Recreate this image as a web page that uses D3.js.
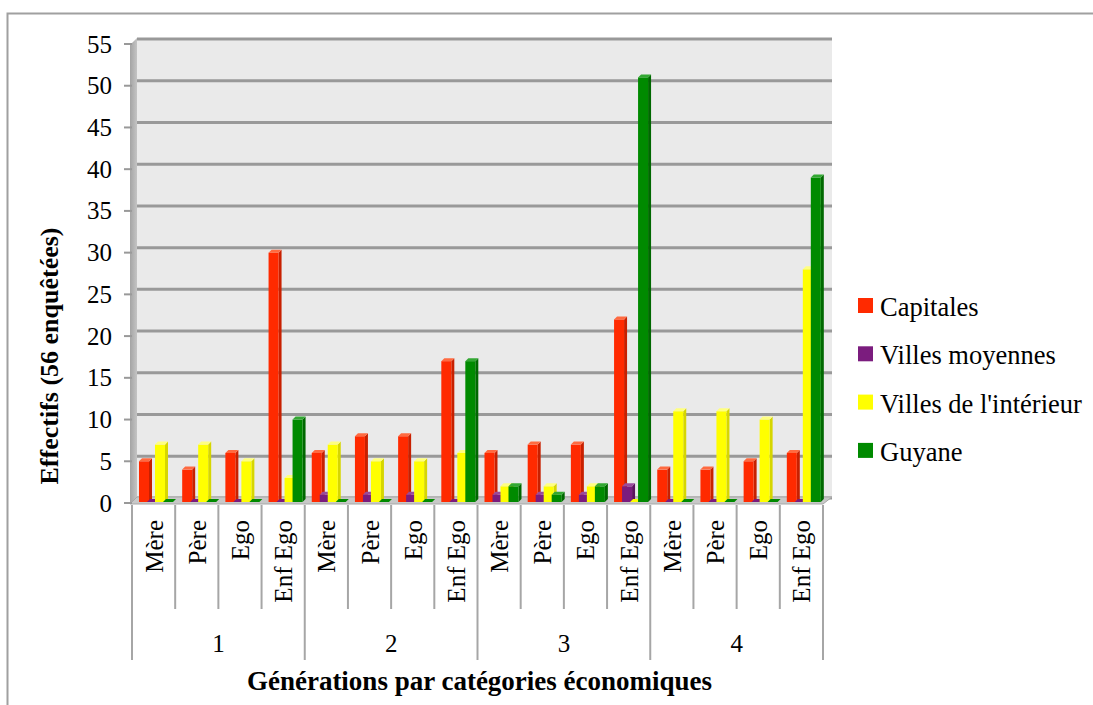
<!DOCTYPE html>
<html><head><meta charset="utf-8">
<script src="https://cdn.jsdelivr.net/npm/d3@7"></script>
<style>
html,body{margin:0;padding:0;background:#fff;}
svg{display:block;}
svg text{font-family:"Liberation Serif","Times New Roman","DejaVu Serif",serif;}
</style>
</head><body>
<script>
// ---- data ----
const groups = ["1", "2", "3", "4"];
const generations = ["Mère", "Père", "Ego", "Enf Ego"];
const seriesNames = ["Capitales", "Villes moyennes", "Villes de l'intérieur", "Guyane"];
const capitales       = [5, 4, 6, 30,  6, 8, 8, 17,  6, 7, 7, 22,  4, 4, 5, 6];
const villesMoyennes  = [0, 0, 0, 0,   1, 1, 1, 0,   1, 1, 1, 2,   0, 0, 0, 0];
const villesInterieur = [7, 7, 5, 3,   7, 5, 5, 6,   2, 2, 2, 0,   11, 11, 10, 28];
const guyane          = [0, 0, 0, 10,  0, 0, 0, 17,  2, 1, 2, 51,  0, 0, 0, 39];
const yTicks = [0, 5, 10, 15, 20, 25, 30, 35, 40, 45, 50, 55];
const yTitle = "Effectifs (56 enquêtées)";
const xTitle = "Générations par catégories économiques";

// ---- setup ----
const W = 1093, H = 705;
const seriesValues = [capitales, villesMoyennes, villesInterieur, guyane];
const colors = [
  {front: "#ff2a00", top: "#ff6a40", side: "#c82000"},
  {front: "#7b1c7e", top: "#9a4a9c", side: "#5c135e"},
  {front: "#ffff00", top: "#ffff80", side: "#d6d600"},
  {front: "#008a00", top: "#33a833", side: "#006800"}
];

const cats = [];
groups.forEach(g => generations.forEach(s => cats.push({g, s, key: g + "|" + s})));

const svg = d3.select("body").append("svg").attr("width", W).attr("height", H);

// outer frame
svg.append("rect").attr("x", 7.5).attr("y", 13.5).attr("width", 1200).attr("height", 900)
  .attr("fill", "none").attr("stroke", "#a0a0a0").attr("stroke-width", 2);

const xLeft = 132, xRight = 823;
const DY = -5;
const x = d3.scaleBand().domain(cats.map(c => c.key)).range([xLeft, xRight]).paddingInner(0).paddingOuter(0);
const y = d3.scaleLinear().domain([0, 55]).range([503, 44]);
const xs = d3.scalePoint().domain(seriesNames).range([7, 31]);

// back wall
svg.append("rect").attr("x", xLeft + 5).attr("y", y(55) + DY)
  .attr("width", xRight + 9 - (xLeft + 5)).attr("height", y(0) - y(55))
  .attr("fill", "#eaeaea");

// side wall
const defs = svg.append("defs");
const sg = defs.append("linearGradient").attr("id", "sideg").attr("x1", 0).attr("x2", 1);
sg.append("stop").attr("offset", 0).attr("stop-color", "#a4a4a4");
sg.append("stop").attr("offset", 1).attr("stop-color", "#c4c4c4");
svg.append("polygon")
  .attr("points", [[xLeft - 2, y(0) + 1], [xLeft - 2, y(55) + 1], [xLeft + 5, y(55) + DY - 1], [xLeft + 5, y(0) + DY]].map(p => p.join(",")).join(" "))
  .attr("fill", "url(#sideg)");

// gridlines on back wall
svg.append("g").selectAll("line").data(yTicks).join("line")
  .attr("x1", xLeft + 5).attr("x2", xRight + 9)
  .attr("y1", d => y(d) + DY).attr("y2", d => y(d) + DY)
  .attr("stroke", "#999").attr("stroke-width", 3);

// floor
svg.append("polygon")
  .attr("points", [[xLeft - 2, y(0) + 1], [xRight, y(0) + 1], [xRight + 9, y(0) + DY - 1], [xLeft + 5, y(0) + DY - 1]].map(p => p.join(",")).join(" "))
  .attr("fill", "#c8c8c8").attr("stroke", "#a8a8a8").attr("stroke-width", 1);

// y axis ticks
svg.append("g").selectAll("line").data(yTicks).join("line")
  .attr("x1", 124).attr("x2", xLeft).attr("y1", d => y(d)).attr("y2", d => y(d))
  .attr("stroke", "#999").attr("stroke-width", 2);
svg.append("g").selectAll("text").data(yTicks).join("text")
  .attr("x", 112).attr("y", d => y(d)).attr("dy", "0.34em")
  .attr("text-anchor", "end").attr("font-size", 25).attr("fill", "#000")
  .text(d => d);

// bars
const bars = svg.append("g");
const baseY = y(0) - 1;
cats.forEach((c, ci) => {
  seriesNames.forEach((s, si) => {
    const v = seriesValues[si][ci];
    const bx = x(c.key) + xs(s);
    const bw = 10, d = 3;
    const yt = Math.min(y(v), baseY);
    const col = colors[si];
    const g = bars.append("g");
    if (v > 0) {
      g.append("polygon").attr("points", [[bx + bw, yt], [bx + bw + d, yt - d], [bx + bw + d, baseY - d], [bx + bw, baseY]].map(p => p.join(",")).join(" "))
        .attr("fill", col.side);
      g.append("rect").attr("x", bx).attr("y", yt).attr("width", bw).attr("height", baseY - yt)
        .attr("fill", col.front);
    }
    g.append("polygon").attr("points", [[bx, yt], [bx + d, yt - d], [bx + bw + d, yt - d], [bx + bw, yt]].map(p => p.join(",")).join(" "))
      .attr("fill", v > 0 ? col.top : col.front);
  });
});

// category separators
const bounds = d3.range(cats.length + 1).map(i => xLeft + i * x.step());
svg.append("g").selectAll("line").data(bounds).join("line")
  .attr("x1", d => d).attr("x2", d => d)
  .attr("y1", 505).attr("y2", (d, i) => i % generations.length === 0 ? 660 : 609)
  .attr("stroke", "#a6a6a6").attr("stroke-width", 2);

// category labels
svg.append("g").selectAll("text").data(cats).join("text")
  .attr("transform", d => `translate(${x(d.key) + x.bandwidth() / 2 + 9},520) rotate(-90)`)
  .attr("text-anchor", "end").attr("font-size", 25).attr("fill", "#000")
  .text(d => d.s);

// group labels
svg.append("g").selectAll("text").data(groups).join("text")
  .attr("x", (d, i) => xLeft + (i * generations.length + generations.length / 2) * x.step())
  .attr("y", 652).attr("text-anchor", "middle").attr("font-size", 25).attr("fill", "#000")
  .text(d => d);

// axis titles
svg.append("text").attr("x", (xLeft + xRight) / 2 + 2).attr("y", 690)
  .attr("text-anchor", "middle").attr("font-size", 27).attr("font-weight", "bold").attr("fill", "#000")
  .text(xTitle);
svg.append("text").attr("transform", "translate(58,356) rotate(-90)")
  .attr("text-anchor", "middle").attr("font-size", 26).attr("font-weight", "bold").attr("fill", "#000")
  .text(yTitle);

// legend
const lg = svg.append("g");
seriesNames.forEach((s, i) => {
  const ly = 298 + i * 48.3;
  lg.append("rect").attr("x", 858).attr("y", ly).attr("width", 15).attr("height", 15).attr("fill", colors[i].front);
  lg.append("text").attr("x", 880).attr("y", ly + 18).attr("font-size", 26.5).attr("fill", "#000").text(s);
});
</script>
</body></html>
